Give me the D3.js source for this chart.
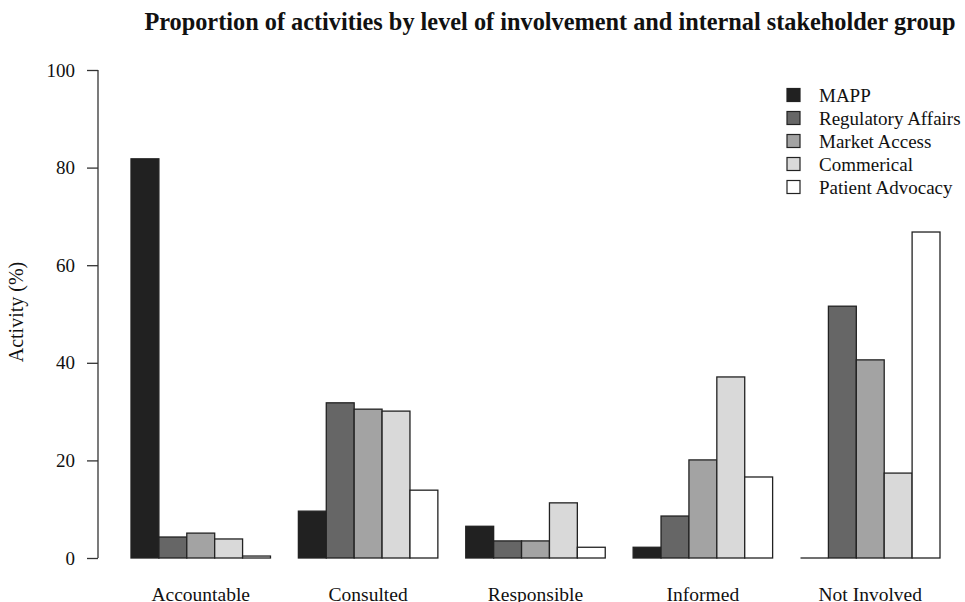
<!DOCTYPE html>
<html><head><meta charset="utf-8">
<script src="https://cdn.jsdelivr.net/npm/d3@7"></script>
<style>body{margin:0;background:#fff}svg{display:block}text{font-family:"Liberation Serif","Times New Roman",serif;fill:#111}</style>
</head><body><div id="chart"></div>
<script>
const categories = ["Accountable","Consulted","Responsible","Informed","Not Involved"];
const seriesNames = ["MAPP","Regulatory Affairs","Market Access","Commerical","Patient Advocacy"];
const MAPP = [81.8, 9.6, 6.5, 2.2, 0];
const regulatoryAffairs = [4.3, 31.8, 3.5, 8.6, 51.6];
const marketAccess = [5.1, 30.5, 3.5, 20.1, 40.6];
const commercial = [3.9, 30.1, 11.3, 37.1, 17.4];
const patientAdvocacy = [0.4, 13.9, 2.2, 16.6, 66.8];
const yTicks = [0, 20, 40, 60, 80, 100];
const colors = ["#212121","#666666","#a3a3a3","#d9d9d9","#ffffff"];
const series = [MAPP, regulatoryAffairs, marketAccess, commercial, patientAdvocacy];

const W = 965, H = 602;
const svg = d3.select("#chart").append("svg").attr("width", W).attr("height", H);

const y = d3.scaleLinear().domain([0, 100]).range([558, 70]);
const x0 = d3.scaleBand().domain(categories).range([131, 940]).paddingInner(1/6).paddingOuter(0);
const x1 = d3.scaleBand().domain(seriesNames).range([0, x0.bandwidth()]);

// title
svg.append("text").attr("x", 550).attr("y", 30).attr("text-anchor", "middle")
  .style("font-weight", "bold").style("font-size", "24.3px")
  .text("Proportion of activities by level of involvement and internal stakeholder group");

// bars
const groups = svg.append("g").selectAll("g").data(categories).join("g")
  .attr("transform", d => `translate(${x0(d)},0)`);
groups.each(function(cat, ci) {
  const g = d3.select(this);
  seriesNames.forEach((s, si) => {
    const v = series[si][ci];
    if (v > 0) {
      g.append("rect").attr("x", x1(s)).attr("width", x1.bandwidth())
        .attr("y", y(v)).attr("height", y(0) - y(v))
        .attr("fill", colors[si]).attr("stroke", "#222").attr("stroke-width", 1.3);
    } else {
      g.append("line").attr("x1", x1(s)).attr("x2", x1(s) + x1.bandwidth())
        .attr("y1", y(0)).attr("y2", y(0)).attr("stroke", "#222").attr("stroke-width", 1.3);
    }
  });
});

// y axis
const yAxis = d3.axisLeft(y).tickValues(yTicks).tickSize(11).tickPadding(12);
const ga = svg.append("g").attr("transform", "translate(98,0)").call(yAxis);
ga.select(".domain").attr("d", `M0,${y(0)}V${y(100)}`).attr("stroke", "#333").attr("stroke-width", 1.3);
ga.selectAll(".tick line").attr("stroke", "#333").attr("stroke-width", 1.3);
ga.selectAll(".tick text").style("font-family", '"Liberation Serif",serif').style("font-size", "19px").attr("fill", "#111");

svg.append("text").attr("transform", "translate(23,312) rotate(-90)").attr("text-anchor", "middle")
  .style("font-size", "20px").text("Activity (%)");

// category labels
svg.append("g").selectAll("text").data(categories).join("text")
  .attr("x", d => x0(d) + x0.bandwidth() / 2).attr("y", 601).attr("text-anchor", "middle")
  .style("font-size", "19.5px").text(d => d);

// legend
const lg = svg.append("g").selectAll("g").data(seriesNames).join("g")
  .attr("transform", (d, i) => `translate(787,${95 + i * 23})`);
lg.append("rect").attr("x", 0).attr("y", -6.5).attr("width", 13).attr("height", 13)
  .attr("fill", (d, i) => colors[i]).attr("stroke", "#222").attr("stroke-width", 1.2);
lg.append("text").attr("x", 32).attr("y", 6.5).style("font-size", "19px").text(d => d);
</script></body></html>
